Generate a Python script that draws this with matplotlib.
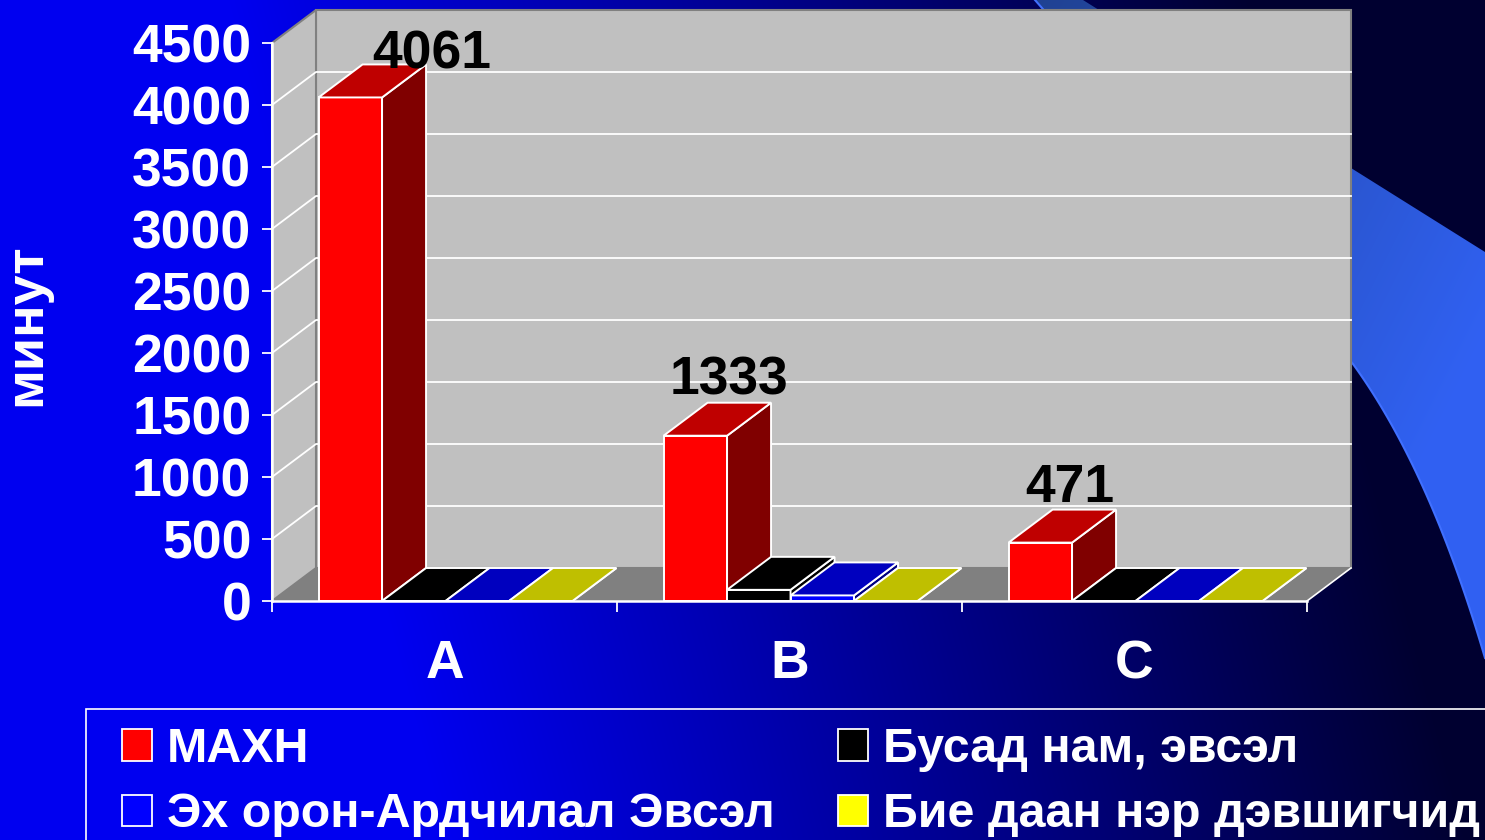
import numpy as np
import matplotlib
matplotlib.use('Agg')
import matplotlib.pyplot as plt
from matplotlib.patches import Polygon, Patch, Rectangle, PathPatch
from matplotlib.path import Path

plt.rcParams['font.family'] = ['Liberation Sans', 'DejaVu Sans']
plt.rcParams['font.weight'] = 'bold'

categories = ['A', 'B', 'C']
series_names = ['МАХН', 'Бусад нам, эвсэл', 'Эх орон-Ардчилал Эвсэл', 'Бие даан нэр дэвшигчид']
mahn = [4061, 1333, 471]
busad = [0, 90, 0]
eh_oron = [0, 45, 0]
bie_daan = [0, 0, 0]
yticks = [0, 500, 1000, 1500, 2000, 2500, 3000, 3500, 4000, 4500]

# label nudges in pixels from the back of the bar top
label_dx = [37, -10, -15]
label_dy = [-15, -3, -3]

front_cols = ['#ff0000', '#000000', '#0000ff', '#ffff00']
top_cols = ['#bf0000', '#000000', '#0000bf', '#bfbf00']
side_cols = ['#800000', '#000000', '#000080', '#808000']

W, H = 1485, 840
fig = plt.figure(figsize=(W / 100, H / 100), dpi=100)

# slide background
bg = fig.add_axes([0, 0, 1, 1], zorder=-1)
bg.set_xlim(0, W)
bg.set_ylim(H, 0)
bg.axis('off')
xx, yy = np.meshgrid(np.arange(W), np.arange(H))
t = xx - 0.26 * yy
blue = np.clip(255 - 0.188 * (t - 149), 48, 240) / 255
img = np.dstack([np.zeros_like(blue), np.zeros_like(blue), blue])
bg.imshow(img, extent=[0, W, H, 0], aspect='auto', zorder=0)

# swoosh behind the chart
u = np.linspace(0, 1, 40)
curve_x = (1 - u) ** 2 * 1353 + 2 * u * (1 - u) * 1430 + u ** 2 * 1485
curve_y = (1 - u) ** 2 * 364 + 2 * u * (1 - u) * 470 + u ** 2 * 658
curve_x = np.r_[1035, curve_x]
curve_y = np.r_[0, curve_y]
verts = [(1083, 0), (1485, 252)] + list(zip(curve_x[::-1], curve_y[::-1])) + [(1083, 0)]
swoosh = Path(verts, closed=True)
s = np.clip((xx - 1000 + 0.5 * yy) / 650, 0, 1)
simg = np.dstack([0.12 + 0.07 * s, 0.25 + 0.13 * s, 0.55 + 0.4 * s])
im2 = bg.imshow(simg, extent=[0, W, H, 0], aspect='auto', zorder=1)
sp = PathPatch(swoosh, transform=bg.transData, fc='none', ec='none')
bg.add_patch(sp)
im2.set_clip_path(sp)
bg.plot(curve_x, curve_y, color='#4070ff', lw=1.5, zorder=2)
bg.set_xlim(0, W)
bg.set_ylim(H, 0)

# chart axes, front plane of the 3d box
ax = fig.add_axes([272 / W, (H - 601) / H, 1035 / W, 558 / H])
ax.patch.set_alpha(0)
ax.set_xlim(0, 3)
ax.set_ylim(0, 4500)
depth_x = 44 / 345
depth_y = 33 / 558 * 4500

# walls and floor
ax.add_patch(Polygon([(depth_x, depth_y), (3 + depth_x, depth_y), (3 + depth_x, 4500 + depth_y), (depth_x, 4500 + depth_y)],
                     fc='#c0c0c0', ec='#808080', lw=1.5, clip_on=False, zorder=1))
ax.add_patch(Polygon([(0, 0), (depth_x, depth_y), (depth_x, 4500 + depth_y), (0, 4500)],
                     fc='#c0c0c0', ec='#808080', lw=1.5, clip_on=False, zorder=1))
ax.add_patch(Polygon([(0, 0), (depth_x, depth_y), (3 + depth_x, depth_y), (3, 0)],
                     fc='#808080', ec='none', clip_on=False, zorder=1))
ax.plot([3, 3 + depth_x], [0, depth_y], color='white', lw=1.2, clip_on=False, zorder=2)

for v in yticks[1:-1]:
    ax.plot([0, depth_x, 3 + depth_x], [v, v + depth_y, v + depth_y], color='white', lw=1.3, clip_on=False, zorder=2)
ax.plot([0, 0], [4500, 0], color='white', lw=1.3, clip_on=False, zorder=2)

# bars
all_series = [mahn, busad, eh_oron, bie_daan]
bar_w = 0.184
gap = 0.135
z = 3
for c in range(len(categories)):
    for j, vals in enumerate(all_series):
        x0 = c + gap + j * bar_w
        x1 = x0 + bar_w
        v = vals[c]
        ax.bar(x0, v, bar_w, align='edge', color=front_cols[j], edgecolor='white', lw=1.4, clip_on=False, zorder=z)
        ax.add_patch(Polygon([(x1, 0), (x1 + depth_x, depth_y), (x1 + depth_x, v + depth_y), (x1, v)],
                             fc=side_cols[j], ec='white', lw=1.4, clip_on=False, zorder=z))
        ax.add_patch(Polygon([(x0, v), (x0 + depth_x, v + depth_y), (x1 + depth_x, v + depth_y), (x1, v)],
                             fc=top_cols[j], ec='white', lw=1.4, clip_on=False, zorder=z))
        z += 1

# value labels
for c, v in enumerate(mahn):
    x0 = c + gap + depth_x + bar_w / 2
    ax.annotate(str(v), (x0, v + depth_y), xytext=(label_dx[c] * 0.72, label_dy[c] * 0.72),
                textcoords='offset points', ha='center', va='bottom', fontsize=38.5,
                color='black', annotation_clip=False, zorder=100)

# axes
for name in ['top', 'right']:
    ax.spines[name].set_visible(False)
for name in ['left', 'bottom']:
    ax.spines[name].set_color('white')
    ax.spines[name].set_linewidth(1.8)
    ax.spines[name].set_zorder(2)
ax.spines['bottom'].set_zorder(50)
ax.set_yticks(yticks)
ax.set_xticks([0.5, 1.5, 2.5])
ax.set_xticklabels(categories)
ax.set_xticks([0, 1, 2, 3], minor=True)
ax.tick_params(axis='y', colors='white', labelsize=38.5, length=7.5, width=1.3, pad=7.3)
ax.tick_params(axis='x', which='major', colors='white', labelsize=38.5, length=0, pad=27.5)
ax.tick_params(axis='x', which='minor', colors='white', length=8, width=1.3)
fig.text(26 / W, 1 - 325 / H, 'минут', rotation=90, color='white', fontsize=38.9,
         ha='center', va='center')

# legend
fig.add_artist(Rectangle((86 / W, -0.1), 1.1, 1 - 709 / H + 0.1, transform=fig.transFigure,
                         fc='none', ec='white', lw=1.2))
handles = [Patch(fc=front_cols[j], ec='white', lw=1.3) for j in [0, 2, 1, 3]]
labels = [series_names[j] for j in [0, 2, 1, 3]]
fig.legend(handles, labels, ncol=2, loc='upper left', bbox_to_anchor=(122 / W, 1 - 727 / H),
           frameon=False, fontsize=34.8, labelcolor='white', borderpad=0, borderaxespad=0,
           handlelength=0.625, handleheight=0.625, handletextpad=0.31, labelspacing=0.42,
           columnspacing=1.3)

fig.savefig('out.png', dpi=100, facecolor='#0000ff')
